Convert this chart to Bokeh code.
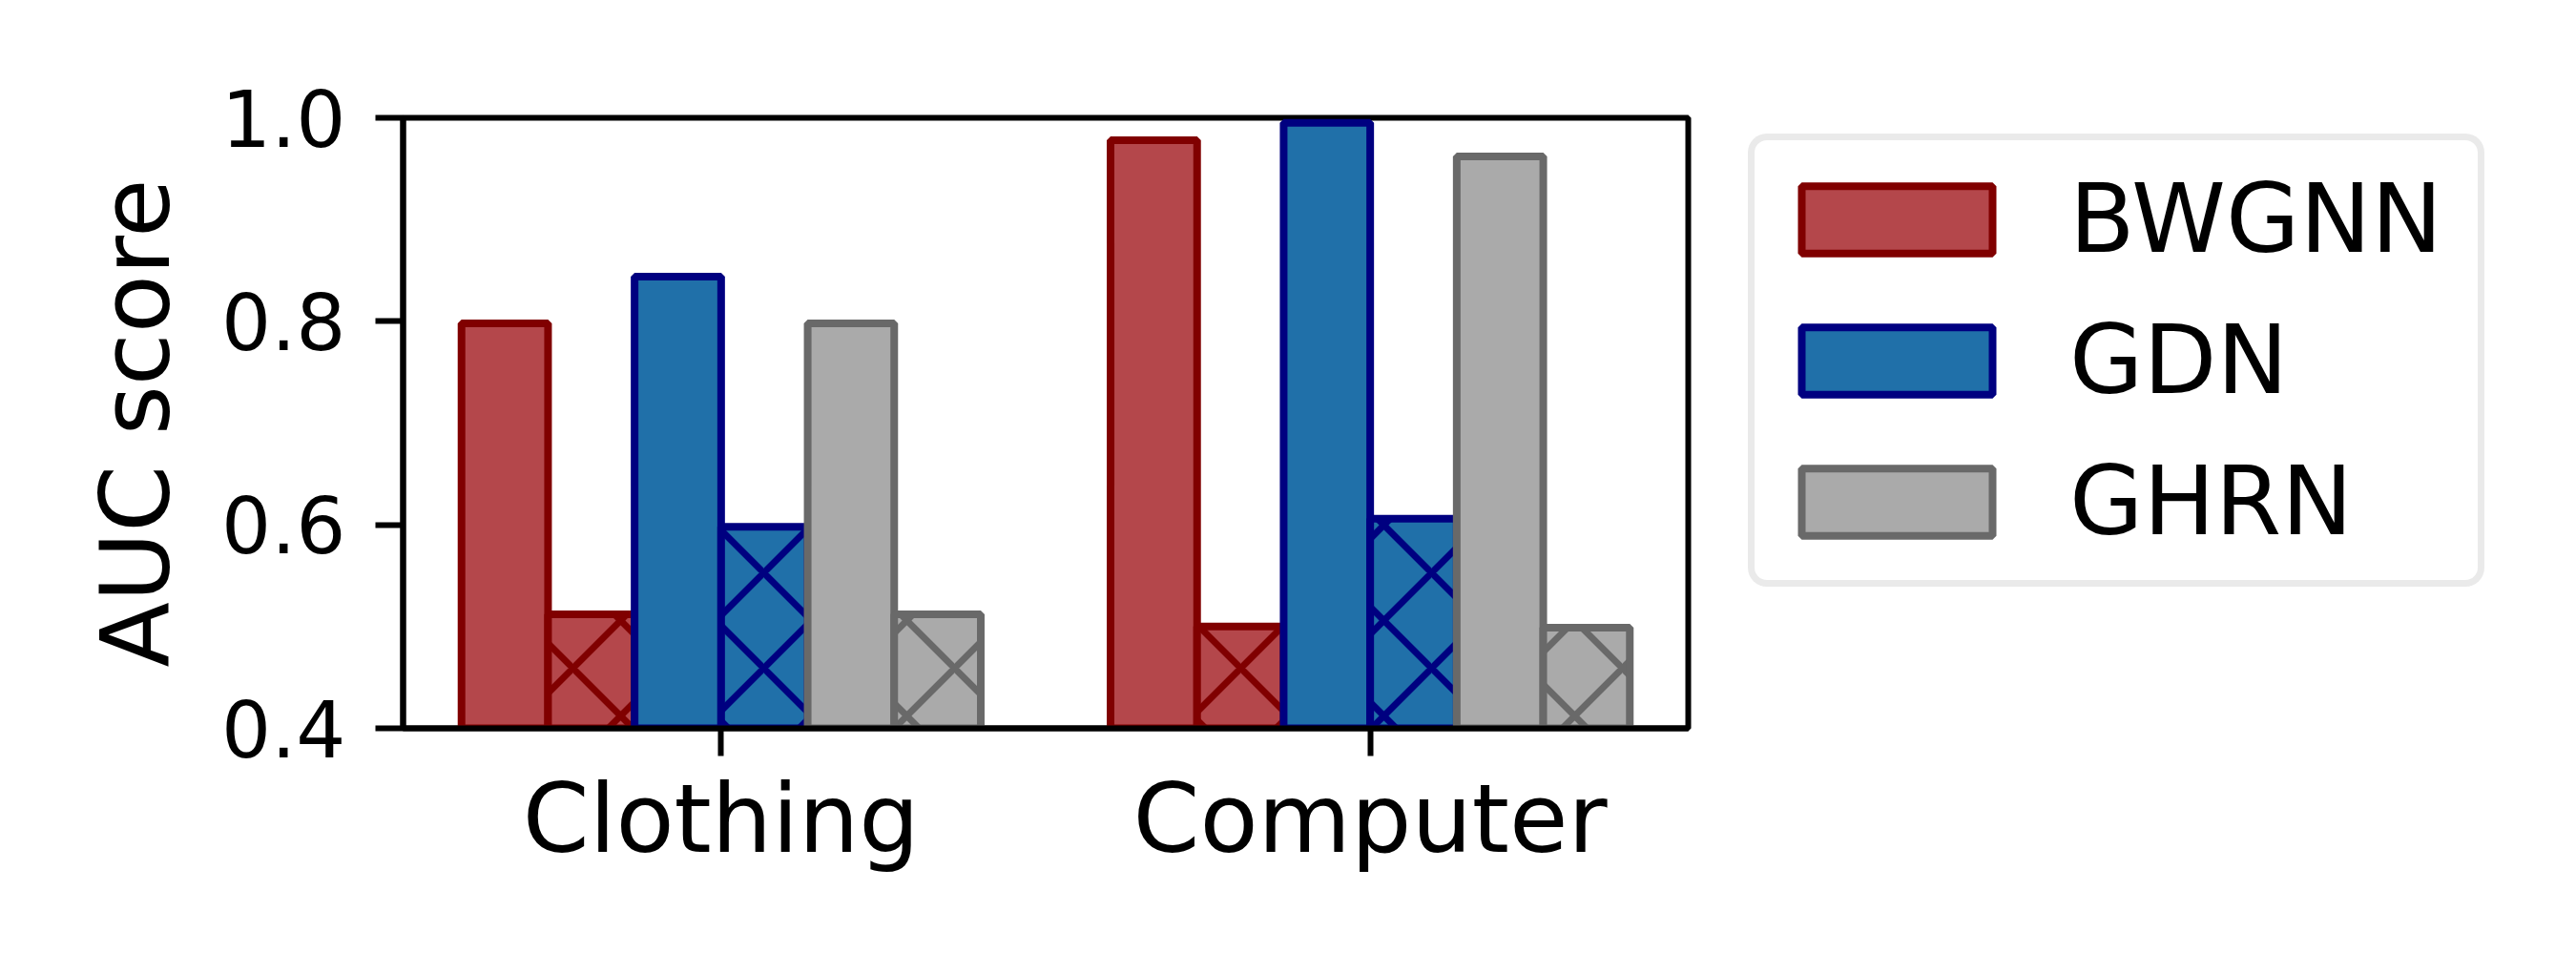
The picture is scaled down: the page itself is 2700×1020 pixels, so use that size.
import numpy as np
from bokeh.plotting import figure
from bokeh.layouts import row
from bokeh.models import Range1d, FixedTicker, Legend, LegendItem, ColumnDataSource
from bokeh.embed import file_html
from bokeh.resources import INLINE

# ---- data ----
categories = ["Clothing", "Computer"]
methods = ["BWGNN", "GDN", "GHRN"]
bwgnn = [0.798, 0.978]
bwgnn_hatched = [0.512, 0.500]
gdn = [0.844, 0.995]
gdn_hatched = [0.598, 0.606]
ghrn = [0.798, 0.962]
ghrn_hatched = [0.512, 0.499]
y_ticks = [0.4, 0.6, 0.8, 1.0]

fills = ["#b4474b", "#2070a9", "#aaaaaa"]
edges = ["#800000", "#000080", "#696969"]

FONT = "DejaVu Sans"
BIG = "75pt"    # = 100 px
SMALL = "61.5pt"  # = 82 px

p = figure(width=1800, height=1020, output_backend="svg", toolbar_location=None,
           x_range=Range1d(-0.49, 1.49), y_range=Range1d(0.4, 1.0),
           min_border_left=422, min_border_right=31, min_border_top=123,
           min_border_bottom=257)
p.background_fill_color = "white"
p.border_fill_color = "white"
p.xgrid.visible = False
p.ygrid.visible = False
p.outline_line_color = "black"
p.outline_line_width = 6
p.outline_line_alpha = 1

w = 0.8 / 6
xs = np.arange(len(categories))
series = [(bwgnn, bwgnn_hatched), (gdn, gdn_hatched), (ghrn, ghrn_hatched)]
k = 0
for i, (solid, hatched) in enumerate(series):
    for j, vals in enumerate((solid, hatched)):
        src = ColumnDataSource(dict(x=xs + (k - 2.5) * w, top=vals, bottom=[0.0] * len(vals)))
        kw = dict(x="x", top="top", bottom="bottom", width=w, source=src,
                  fill_color=fills[i], line_color=edges[i], line_width=8)
        if j == 1:
            kw.update(hatch_pattern="x", hatch_color=edges[i], hatch_weight=7, hatch_scale=100)
        p.vbar(**kw)
        k += 1

for ax in (p.xaxis[0], p.yaxis[0]):
    ax.axis_line_width = 6
    ax.axis_line_color = "black"
    ax.major_tick_line_width = 6
    ax.major_tick_line_color = "black"
    ax.major_tick_in = 0
    ax.major_tick_out = 29
    ax.minor_tick_line_color = None
    ax.major_label_text_font = FONT
    ax.major_label_text_font_style = "normal"
    ax.major_label_text_color = "black"

p.xaxis.ticker = FixedTicker(ticks=list(xs))
p.xaxis.major_label_overrides = {int(i): c for i, c in zip(xs, categories)}
p.xaxis.major_label_text_font_size = BIG
p.xaxis.major_label_standoff = 7

p.yaxis.ticker = FixedTicker(ticks=y_ticks)
p.yaxis.major_label_overrides = {t: f"{t:.1f}" for t in y_ticks}
p.yaxis.major_label_text_font_size = SMALL
p.yaxis.major_label_standoff = 31
p.yaxis.axis_label = "AUC score"
p.yaxis.axis_label_text_font = FONT
p.yaxis.axis_label_text_font_size = BIG
p.yaxis.axis_label_text_font_style = "normal"
p.yaxis.axis_label_text_color = "black"
p.yaxis.axis_label_standoff = 28

# ---- legend panel (second figure to the right of the axes) ----
p2 = figure(width=900, height=1020, output_backend="svg", toolbar_location=None,
            x_axis_type=None, y_axis_type=None, min_border=0,
            x_range=Range1d(0, 1), y_range=Range1d(0, 1))
p2.outline_line_color = None
p2.background_fill_color = "white"
p2.border_fill_color = "white"
items = []
for i, m in enumerate(methods):
    # legend proxy glyphs, drawn underneath the opaque legend box
    proxy_src = ColumnDataSource(dict(x=[0.5], top=[0.6], bottom=[0.5]))
    proxy = p2.vbar(x="x", top="top", bottom="bottom", width=0.1, source=proxy_src,
                    fill_color=fills[i], line_color=edges[i], line_width=8)
    items.append(LegendItem(label=m, renderers=[proxy]))

legend = Legend(items=items, location=(32, 148))
legend.label_text_font = FONT
legend.label_text_font_size = BIG
legend.label_text_color = "black"
legend.glyph_width = 250
legend.glyph_height = 88
legend.label_standoff = 56
legend.label_width = 404
legend.padding = 24
legend.spacing = 31
legend.margin = 0
legend.border_line_color = "#d6d6d6"
legend.border_line_width = 7
legend.border_radius = 20
legend.background_fill_color = "white"
legend.background_fill_alpha = 1
p2.add_layout(legend)

layout = row(p, p2)
open("out.html", "w").write(file_html(layout, INLINE))
